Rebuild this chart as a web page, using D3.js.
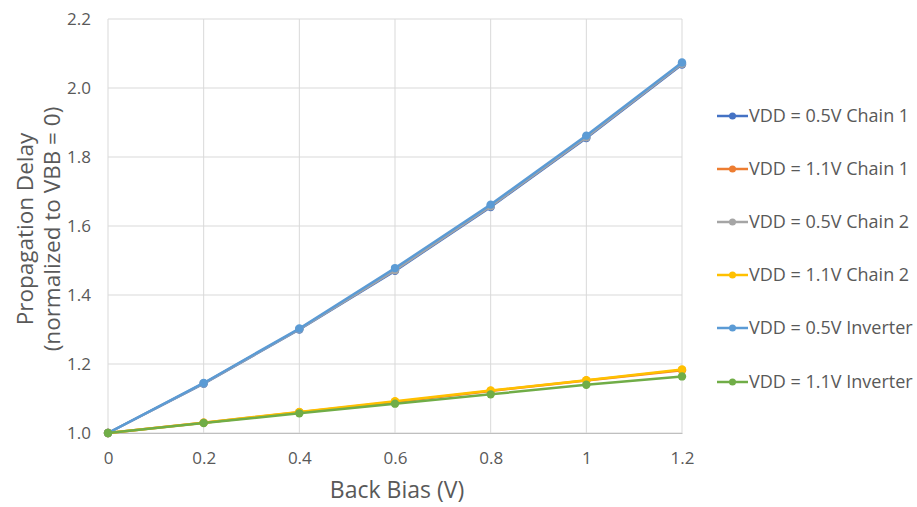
<!DOCTYPE html>
<html>
<head>
<meta charset="utf-8">
<script src="https://cdn.jsdelivr.net/npm/d3@7"></script>
<style>
  body { margin: 0; background: #fff; }
  text { font-family: "Open Sans", "Liberation Sans", sans-serif; fill: #595959; }
</style>
</head>
<body>
<svg id="chart" width="917" height="507"></svg>
<script>
var backBias = [0, 0.2, 0.4, 0.6, 0.8, 1.0, 1.2];
var xTicks = [0, 0.2, 0.4, 0.6, 0.8, 1, 1.2];
var yTicks = [1.0, 1.2, 1.4, 1.6, 1.8, 2.0, 2.2];

var seriesNames = [
  "VDD = 0.5V Chain 1",
  "VDD = 1.1V Chain 1",
  "VDD = 0.5V Chain 2",
  "VDD = 1.1V Chain 2",
  "VDD = 0.5V Inverter",
  "VDD = 1.1V Inverter"
];
var seriesColors = ["#4472C4", "#ED7D31", "#A5A5A5", "#FFC000", "#5B9BD5", "#70AD47"];

var chain1Low  = [1.0, 1.143, 1.300, 1.470, 1.655, 1.855, 2.068];
var chain1High = [1.0, 1.030, 1.060, 1.090, 1.122, 1.152, 1.182];
var chain2Low  = [1.0, 1.144, 1.301, 1.472, 1.657, 1.857, 2.070];
var chain2High = [1.0, 1.030, 1.061, 1.092, 1.123, 1.153, 1.184];
var invLow     = [1.0, 1.145, 1.303, 1.478, 1.662, 1.862, 2.074];
var invHigh    = [1.0, 1.029, 1.057, 1.085, 1.112, 1.140, 1.164];

var seriesValues = [chain1Low, chain1High, chain2Low, chain2High, invLow, invHigh];

var svg = d3.select("#chart");
var margin = { left: 108, right: 235, top: 19, bottom: 74 };
var width = 917 - margin.left - margin.right;
var height = 507 - margin.top - margin.bottom;

var x = d3.scaleLinear().domain([0, 1.2]).range([0, width]);
var y = d3.scaleLinear().domain([1.0, 2.2]).range([height, 0]);

var g = svg.append("g").attr("transform", "translate(" + margin.left + "," + margin.top + ")");

// gridlines
g.selectAll(".hgrid")
  .data(yTicks)
  .enter()
  .append("line")
  .attr("class", "hgrid")
  .attr("x1", 0).attr("x2", width)
  .attr("y1", (d)=>(y(d))).attr("y2", (d)=>(y(d)))
  .attr("stroke", "#D9D9D9")
  .attr("stroke-width", 1);

g.selectAll(".vgrid")
  .data(xTicks)
  .enter()
  .append("line")
  .attr("class", "vgrid")
  .attr("y1", 0).attr("y2", height)
  .attr("x1", (d)=>(x(d))).attr("x2", (d)=>(x(d)))
  .attr("stroke", "#D9D9D9")
  .attr("stroke-width", 1);

// axes
var xAxis = d3.axisBottom(x).tickValues(xTicks).tickSize(0).tickPadding(19)
  .tickFormat(function(d) { return d === 0 || d === 1 ? d3.format("d")(d) : d3.format(".1f")(d); });
var yAxis = d3.axisLeft(y).tickValues(yTicks).tickSize(0).tickPadding(17).tickFormat(d3.format(".1f"));

var gx = g.append("g").attr("transform", "translate(0," + height + ")").call(xAxis);
gx.select(".domain").attr("stroke", "#BFBFBF");
gx.selectAll("text").attr("font-size", "17px").style("fill", "#595959").style("font-family", "'Open Sans', sans-serif");

var gy = g.append("g").call(yAxis);
gy.select(".domain").remove();
gy.selectAll("text").attr("font-size", "17px").style("fill", "#595959").style("font-family", "'Open Sans', sans-serif");

// axis titles
svg.append("text")
  .attr("x", margin.left + width / 2 + 2)
  .attr("y", 498)
  .attr("text-anchor", "middle")
  .attr("font-size", "23px")
  .text("Back Bias (V)");

var yTitle = svg.append("text")
  .attr("transform", "translate(33," + (margin.top + height / 2 + 3) + ") rotate(-90)")
  .attr("text-anchor", "middle")
  .attr("font-size", "22.5px");
yTitle.append("tspan").attr("x", 0).attr("dy", 0).text("Propagation Delay");
yTitle.append("tspan").attr("x", 0).attr("dy", 27).text("(normalized to VBB = 0)");

// series
var line = d3.line()
  .x(function(d, i) { return x(backBias[i]); })
  .y(function(d) { return y(d); });

seriesValues.forEach(function(vals, s) {
  var sg = g.append("g");
  sg.append("path")
    .datum(vals)
    .attr("fill", "none")
    .attr("stroke", seriesColors[s])
    .attr("stroke-width", 2.5)
    .attr("stroke-linejoin", "round")
    .attr("d", line);
  sg.selectAll("circle")
    .data(vals)
    .enter()
    .append("circle")
    .attr("cx", (d,i)=>(x(backBias[i])))
    .attr("cy", (d)=>(y(d)))
    .attr("r", 4.2)
    .attr("fill", seriesColors[s]);
});

// legend
var legendY = [116, 169, 222, 275, 328, 382];
var legend = svg.append("g");
var items = legend.selectAll(".legendItem")
  .data(seriesNames)
  .enter()
  .append("g")
  .attr("class", "legendItem")
  .attr("transform", (d,i)=>("translate(717," + legendY[i] + ")"));

items.append("line")
  .attr("x1", 0).attr("x2", 31)
  .attr("stroke", (d,i)=>(seriesColors[i]))
  .attr("stroke-width", 2.5);
items.append("circle")
  .attr("cx", 15.5).attr("r", 3.5)
  .attr("fill", (d,i)=>(seriesColors[i]));
items.append("text")
  .attr("x", 32)
  .attr("dy", "0.35em")
  .attr("font-size", "18px")
  .text((d)=>(d));
</script>
</body>
</html>
